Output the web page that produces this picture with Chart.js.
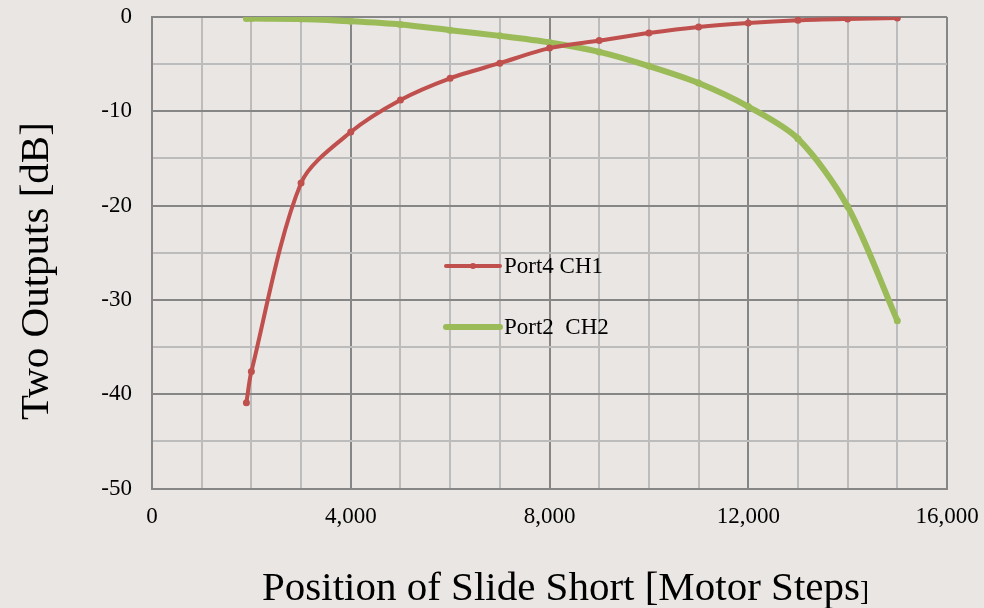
<!DOCTYPE html>
<html>
<head>
<meta charset="utf-8">
<script src="https://cdn.jsdelivr.net/npm/chart.js@4/dist/chart.umd.min.js"></script>
<style>
    html, body { margin: 0; padding: 0; background: #e9e6e3; }
    #wrap { width: 984px; height: 608px; position: relative; }
</style>
</head>
<body>
<div id="wrap"><canvas id="outputsChart" width="984" height="608"></canvas></div>
<script>
// Motor steps where both ports were measured
var motorSteps = [1900, 2000, 3000, 4000, 5000, 6000, 7000, 8000, 9000, 10000, 11000, 12000, 13000, 14000, 15000];
// Output levels in dB
var port4CH1 = [-40.9, -37.6, -17.6, -12.2, -8.8, -6.5, -4.9, -3.3, -2.5, -1.7, -1.06, -0.64, -0.35, -0.2, -0.1];
var port2CH2 = [-0.15, -0.17, -0.2, -0.45, -0.8, -1.4, -2.0, -2.7, -3.7, -5.2, -7.0, -9.5, -12.9, -20.1, -32.2];

var xMajorStep = 4000;
var yMajorStep = 10;

function toPoints(xs, ys) {
    var pts = [];
    for (var i = 0; i < xs.length; i++) {
        pts.push({ x: xs[i], y: ys[i] });
    }
    return pts;
}

var serif = '"Liberation Serif", "Times New Roman", serif';

// Draws the in-plot legend and the axis titles
var annotatePlugin = {
    id: 'annotate',
    afterDraw: function(chart) {
        var ctx = chart.ctx;
        ctx.save();

        // legend
        var items = [
            { label: 'Port4 CH1', color: '#c0504d', width: 4, y: 266 },
            { label: 'Port2  CH2', color: '#9bbb59', width: 6, y: 327 }
        ];
        items.forEach(function(it) {
            ctx.strokeStyle = it.color;
            ctx.lineWidth = it.width;
            ctx.lineCap = 'round';
            ctx.beginPath();
            ctx.moveTo(446, it.y);
            ctx.lineTo(500, it.y);
            ctx.stroke();
            ctx.fillStyle = it.color;
            ctx.beginPath();
            ctx.arc(473, it.y, 3, 0, Math.PI * 2);
            ctx.fill();
            ctx.fillStyle = '#000';
            ctx.font = '23px ' + serif;
            ctx.textAlign = 'left';
            ctx.textBaseline = 'middle';
            ctx.fillText(it.label, 504, it.y + 1);
        });

        // x axis title
        ctx.fillStyle = '#000';
        ctx.textBaseline = 'alphabetic';
        ctx.font = '41px ' + serif;
        var xt = 'Position of Slide Short [Motor Steps';
        ctx.fillText(xt, 262, 600);
        var w = ctx.measureText(xt).width;
        ctx.font = '27px ' + serif;
        ctx.fillText(']', 262 + w, 600);

        // y axis title
        ctx.translate(48, 420);
        ctx.rotate(-Math.PI / 2);
        ctx.font = '41px ' + serif;
        ctx.fillText('Two Outputs [dB]', 0, 0);
        ctx.restore();
    }
};

var ctx = document.getElementById('outputsChart').getContext('2d');
new Chart(ctx, {
    type: 'line',
    data: {
        datasets: [{
            label: 'Port4 CH1',
            data: toPoints(motorSteps, port4CH1),
            borderColor: '#c0504d',
            backgroundColor: '#c0504d',
            borderWidth: 4,
            pointRadius: 3.5,
            pointBorderWidth: 0,
            pointHoverRadius: 3.5,
            tension: 0.3,
            fill: false
        }, {
            label: 'Port2  CH2',
            data: toPoints(motorSteps, port2CH2),
            borderColor: '#9bbb59',
            backgroundColor: '#9bbb59',
            borderWidth: 6,
            pointRadius: 3.5,
            pointBorderWidth: 0,
            pointHoverRadius: 3.5,
            tension: 0.3,
            fill: false
        }]
    },
    options: {
        responsive: false,
        animation: false,
        layout: { padding: { top: 17, right: 37, bottom: 0, left: 0 } },
        plugins: {
            legend: { display: false },
            tooltip: { enabled: false }
        },
        scales: {
            x: {
                type: 'linear',
                min: 0,
                max: 16000,
                afterFit: function(scale) {
                    scale.height = 119.5;
                    scale.paddingLeft = 0;
                    scale.paddingRight = 0;
                },
                border: { display: true, color: '#868686', width: 2 },
                grid: {
                    drawTicks: false,
                    lineWidth: 2,
                    color: function(c) {
                        return c.tick && c.tick.value % xMajorStep === 0 ? '#868686' : '#bcbcbc';
                    }
                },
                ticks: {
                    stepSize: 1000,
                    autoSkip: false,
                    maxRotation: 0,
                    padding: 15,
                    color: '#000',
                    font: { family: serif, size: 23 },
                    callback: function(v) {
                        return v % xMajorStep === 0 ? v.toLocaleString('en-US') : '';
                    }
                }
            },
            y: {
                min: -50,
                max: 0,
                afterFit: function(scale) {
                    scale.width = 152;
                    scale.paddingTop = 0;
                    scale.paddingBottom = 0;
                },
                border: { display: true, color: '#868686', width: 2 },
                grid: {
                    drawTicks: false,
                    lineWidth: 2,
                    color: function(c) {
                        return c.tick && c.tick.value % yMajorStep === 0 ? '#868686' : '#bcbcbc';
                    }
                },
                ticks: {
                    stepSize: 5,
                    autoSkip: false,
                    padding: 20,
                    color: '#000',
                    font: { family: serif, size: 23 },
                    callback: function(v) {
                        return v % yMajorStep === 0 ? String(v) : '';
                    }
                }
            }
        }
    },
    plugins: [annotatePlugin]
});
</script>
</body>
</html>
